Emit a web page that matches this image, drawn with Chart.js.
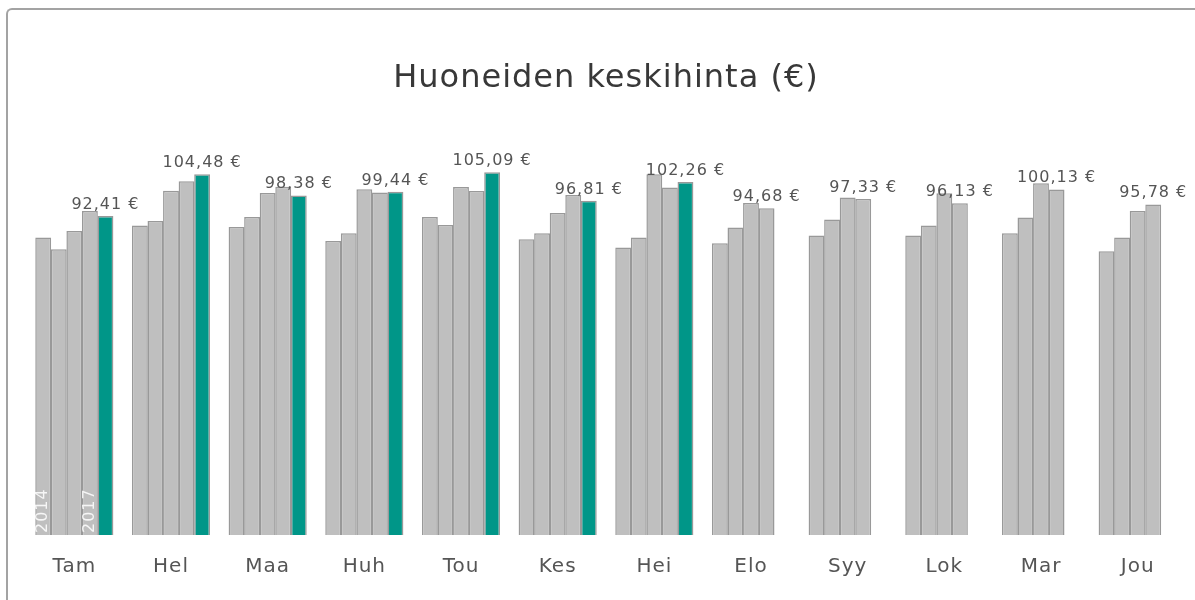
<!DOCTYPE html>
<html>
<head>
<meta charset="utf-8">
<script src="https://cdn.jsdelivr.net/npm/chart.js@4/dist/chart.umd.min.js"></script>
<style>
  html, body { margin: 0; padding: 0; background: #fff; overflow: hidden; }
  #wrap { width: 1195px; height: 600px; position: relative; overflow: hidden; }
  #frame { position: absolute; left: 6px; top: 8px; width: 1100px; height: 2000px;
           border-left: 2px solid #a3a3a3; border-top: 2px solid #a3a3a3; border-top-left-radius: 6px; pointer-events: none; box-sizing: border-box; }
  #frame2 { position: absolute; left: 1100px; top: 8px; width: 95px; height: 2px; background: #a3a3a3; pointer-events: none; }
  #c { position: absolute; left: 0; top: 0; }
</style>
</head>
<body>
<div id="wrap"><canvas id="c" width="1195" height="600"></canvas><div id="frame"></div><div id="frame2"></div></div>
<script>
const months = ['Tam', 'Hel', 'Maa', 'Huh', 'Tou', 'Kes', 'Hei', 'Elo', 'Syy', 'Lok', 'Mar', 'Jou'];
const years = ['2014', '2015', '2016', '2017', '2018'];
const v2014 = [86.2, 89.7, 89.2, 85.2, 92.1, 85.7, 83.3, 84.5, 86.8, 86.8, 87.4, 82.2];
const v2015 = [82.8, 91.0, 92.1, 87.4, 89.8, 87.4, 86.2, 89.1, 91.4, 89.7, 92.0, 86.2];
const v2016 = [88.1, 99.7, 99.1, 100.2, 100.8, 93.3, 104.5, 96.2, 97.8, 99.0, 101.9, 93.9];
const v2017 = [93.9, 102.5, 100.9, 99.2, 99.65, 98.5, 100.7, 94.68, 97.33, 96.13, 100.13, 95.78];
const v2018 = [92.41, 104.48, 98.38, 99.44, 105.09, 96.81, 102.26, null, null, null, null, null];
const series = [v2014, v2015, v2016, v2017, v2018];
const chartTitle = 'Huoneiden keskihinta (€)';

const GRAY = '#bfbfbf';
const TEAL = '#009688';
const FONT = "'DejaVu Sans', sans-serif";

function fmt(v) {
  return v.toFixed(2).replace('.', ',') + ' €';
}

const spacingPlugin = {
  id: 'spacing',
  beforeDraw(chart) {
    chart.ctx.letterSpacing = '1px';
  }
};

const labelPlugin = {
  id: 'valueLabels',
  afterDatasetsDraw(chart) {
    const ctx = chart.ctx;
    ctx.save();
    ctx.letterSpacing = '1px';
    ctx.font = '16px ' + FONT;
    ctx.fillStyle = '#555555';
    ctx.textAlign = 'center';
    ctx.textBaseline = 'alphabetic';
    months.forEach((m, i) => {
      for (let d = series.length - 1; d >= 0; d--) {
        const v = series[d][i];
        if (v !== null && v !== undefined) {
          const el = chart.getDatasetMeta(d).data[i];
          ctx.fillText(fmt(v), el.x, el.y - 7);
          break;
        }
      }
    });
    ctx.fillStyle = 'rgba(255,255,255,0.85)';
    ctx.font = '16px ' + FONT;
    ctx.textAlign = 'left';
    ctx.textBaseline = 'middle';
    [0, 3].forEach(d => {
      const el = chart.getDatasetMeta(d).data[0];
      ctx.save();
      ctx.translate(el.x, el.base - 2);
      ctx.rotate(-Math.PI / 2);
      ctx.fillText(years[d], 0, 0);
      ctx.restore();
    });
    ctx.restore();
  }
};

new Chart(document.getElementById('c'), {
  type: 'bar',
  data: {
    labels: months,
    datasets: series.map((s, i) => ({
      label: years[i],
      data: s,
      backgroundColor: i === 4 ? TEAL : GRAY,
      borderColor: '#999999',
      borderWidth: 1.5,
      borderSkipped: 'bottom',
      categoryPercentage: 0.805,
      barPercentage: 1.02
    }))
  },
  options: {
    responsive: false,
    animation: false,
    layout: { padding: { top: 59, left: 26, right: 9, bottom: 1 } },
    plugins: {
      legend: { display: false },
      tooltip: { enabled: false },
      title: {
        display: true,
        text: chartTitle,
        color: '#383838',
        font: { family: FONT, size: 32, weight: 'normal' },
        padding: { top: 0, bottom: 23.4 }
      }
    },
    scales: {
      x: {
        grid: { display: false, drawTicks: false, tickLength: 0 },
        border: { display: false },
        ticks: { color: '#555555', font: { family: FONT, size: 20 }, padding: 20, maxRotation: 0 }
      },
      y: {
        display: false,
        min: 0,
        max: 120
      }
    }
  },
  plugins: [spacingPlugin, labelPlugin]
});
</script>
</body>
</html>
